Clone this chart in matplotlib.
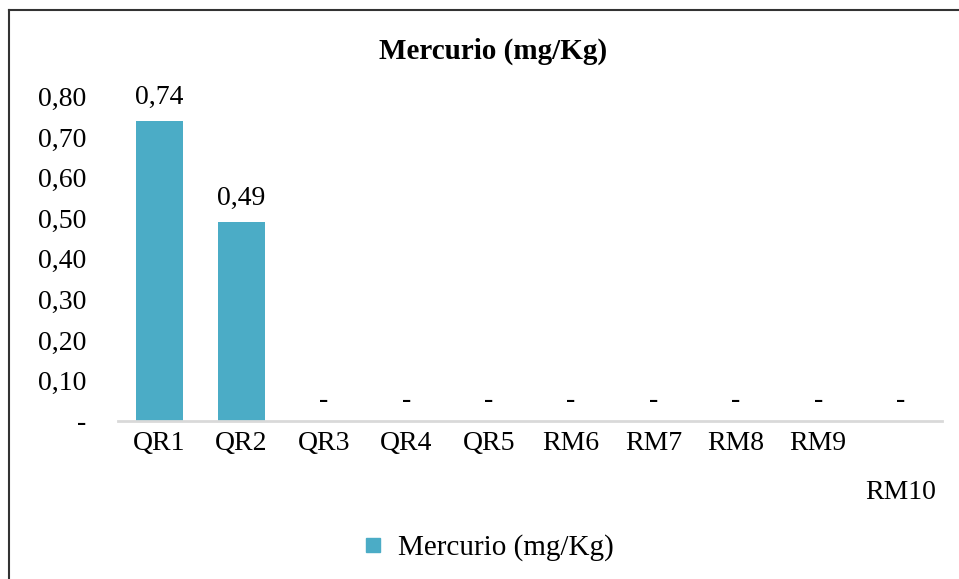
import numpy as np
import matplotlib.pyplot as plt
from matplotlib.lines import Line2D

# Mercury concentration per sampling point
stations = ["QR1", "QR2", "QR3", "QR4", "QR5", "RM6", "RM7", "RM8", "RM9", "RM10"]
mercury = [0.74, 0.49, 0, 0, 0, 0, 0, 0, 0, 0]
yticks = [0, 0.1, 0.2, 0.3, 0.4, 0.5, 0.6, 0.7, 0.8]

plt.rcParams["font.family"] = ["Liberation Serif", "DejaVu Serif"]
bar_colour = "#4BACC6"


def fmt(v):
    # zero shows as a dash, others with a decimal comma
    return "-" if v == 0 else f"{v:.2f}".replace(".", ",")


fig = plt.figure(figsize=(9.59, 5.79), dpi=100)
ax = fig.add_axes([0.123, 0.273, 0.859, 0.5597])

x = np.arange(len(stations))
bars = ax.bar(x, mercury, width=0.57, color=bar_colour, zorder=2)
for xi, v in zip(x, mercury):
    off = 0.028 if v > 0 else 0.02
    ax.text(xi, v + off, fmt(v), ha="center", va="bottom", fontsize=20)

ax.set_xlim(-0.5, len(stations) - 0.5)
ax.set_ylim(0, 0.8)
ax.set_yticks(yticks)
ax.set_yticklabels([fmt(t) for t in yticks], fontsize=20)
ax.set_xticks(x)
labels = [s if s != "RM10" else "\n" + s for s in stations]
ax.set_xticklabels(labels, fontsize=20, linespacing=2.3)
ax.tick_params(axis="x", length=0, pad=7)
ax.tick_params(axis="y", length=0, pad=23)

for side in ["top", "right", "left"]:
    ax.spines[side].set_visible(False)
ax.spines["bottom"].set_color("#D9D9D9")
ax.spines["bottom"].set_linewidth(2)

fig.text(0.514, 0.912, "Mercurio (mg/Kg)", ha="center", va="center",
         fontsize=21, fontweight="bold")

handle = Line2D([], [], marker="s", color=bar_colour, linestyle="none", markersize=10.5)
fig.legend([handle], ["Mercurio (mg/Kg)"], loc="center", bbox_to_anchor=(0.507, 0.054),
           frameon=False, fontsize=21, handlelength=1.0, handletextpad=0.35)

# frame around the chart
fig.add_artist(Line2D([0.0094, 1.0], [0.983, 0.983], color="#333333", lw=1.5))
fig.add_artist(Line2D([0.0094, 0.0094], [0.0, 0.983], color="#333333", lw=1.5))

fig.savefig("out.png", dpi=100)
